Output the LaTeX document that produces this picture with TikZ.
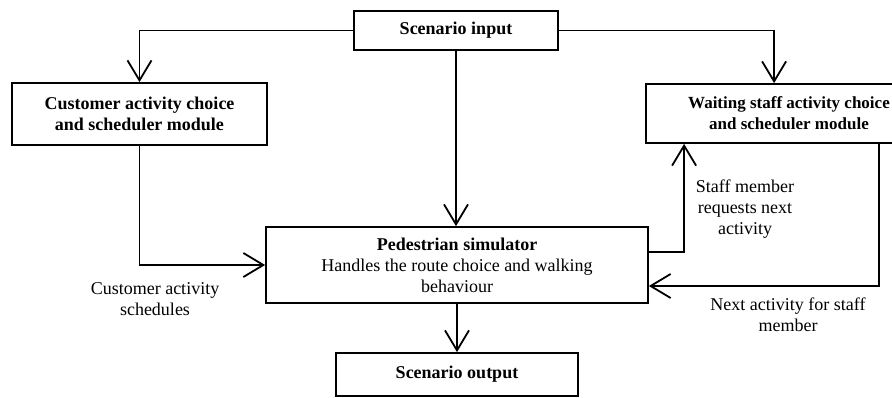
\documentclass[tikz,border=0pt]{standalone}
\usepackage{fontspec}
\setmainfont{Liberation Serif}
\usetikzlibrary{arrows.meta}

\begin{document}
\begin{tikzpicture}[x=1pt, y=-1pt, line width=1.8pt,
  every node/.style={font=\fontsize{18}{21}\selectfont, align=center, inner sep=0pt},
  module/.style={draw, font=\fontsize{18}{21}\selectfont\bfseries},
  flow/.style={-{Straight Barb[length=20pt, width=24pt, line width=1.8pt]}}]
\useasboundingbox (0,0) rectangle (892,397);

% boxes
\node[module, minimum width=204, minimum height=39] (input) at (456,30.5) {Scenario input};
\node[module, minimum width=255, minimum height=62] (cust) at (139.5,114) {Customer activity choice\\and scheduler module};
\node[module, minimum width=286, minimum height=59, font=\fontsize{17}{21}\selectfont\bfseries] (staff) at (789,113.5) {Waiting staff activity choice\\and scheduler module};
\node[draw, minimum width=382, minimum height=76] (sim) at (457,265) {\textbf{Pedestrian simulator}\\Handles the route choice and walking\\behaviour};
\node[module, minimum width=242, minimum height=43] (output) at (457,374.5) {Scenario output};

% labels
\node (custlbl) at (155,299) {Customer activity\\schedules};
\node (reqlbl) at (745,209) {Staff member\\requests next\\activity};
\node (nextlbl) at (788,315) {Next activity for staff\\member};

% connectors
\draw[flow] (input.west) -| (cust.north);
\draw[flow] (input.east) -| ([xshift=129pt]staff.north west);
\draw[flow] (input.south) -- (input.south |- sim.north);
\draw[flow] (cust.south) |- (sim.west);
\draw[flow] ([yshift=13pt]sim.east) -| ([xshift=39pt]staff.south west);
\draw[flow] ([xshift=-54pt]staff.south east) |- ([yshift=-21pt]sim.east);
\draw[flow] (sim.south) -- (output.north);
\end{tikzpicture}
\end{document}
